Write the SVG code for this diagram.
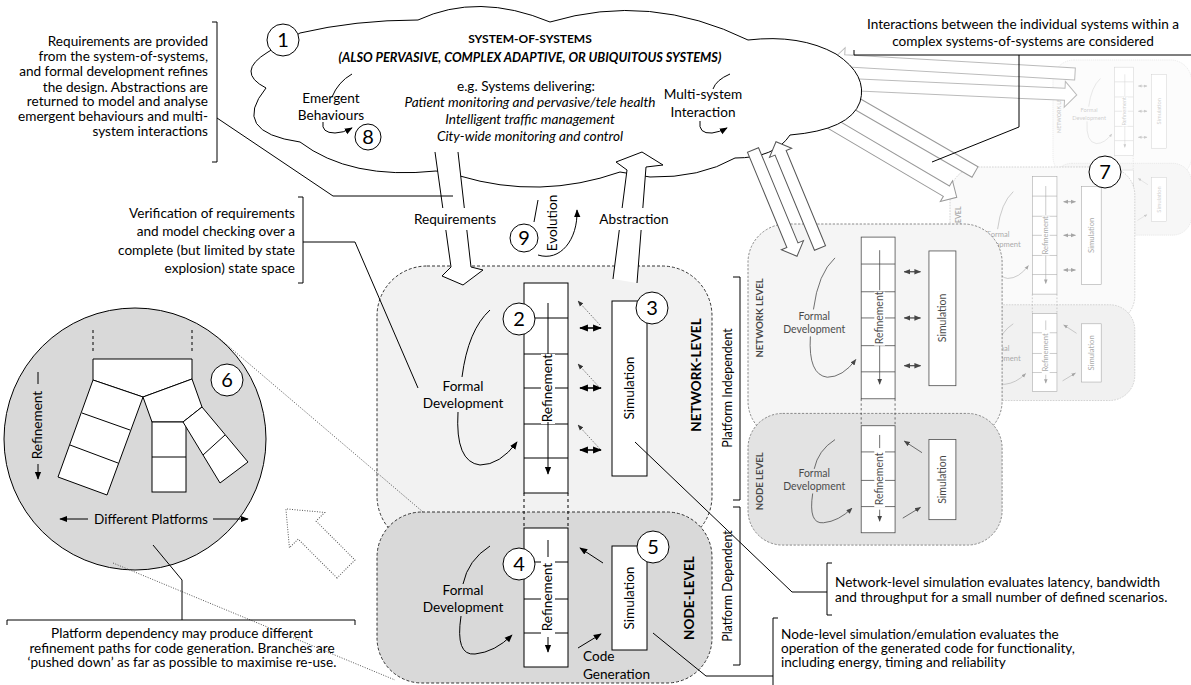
<svg xmlns="http://www.w3.org/2000/svg" width="1191" height="685" viewBox="0 0 1191 685">
<style>
text{font-family:Lato,"Open Sans","DejaVu Sans",sans-serif;font-size:13.6px;fill:#000}
.c{text-anchor:middle}
.e{text-anchor:end}
.sm{font-size:12.5px}
.b{font-weight:bold}
.i{font-style:italic}
.ln{fill:none;stroke:#000;stroke-width:1}
.da{fill:none;stroke:#000;stroke-width:1.6}
.box{fill:#fff;stroke:#000;stroke-width:1}
.num{fill:#fff;stroke:#000;stroke-width:1}
.numt{font-size:20px;text-anchor:middle}
.netbox{fill:#f2f2f2;stroke:#333;stroke-dasharray:3 2}
.nodebox{fill:#d9d9d9;stroke:#333;stroke-dasharray:3 2}
.dash{fill:none;stroke:#000;stroke-dasharray:3 3}
.dot{fill:none;stroke:#555;stroke-dasharray:1 1.5}
.wbg{fill:#fff;stroke:none}
</style>
<defs>
<marker id="a" viewBox="0 0 10 10" refX="9" refY="5" markerWidth="8" markerHeight="8" orient="auto-start-reverse"><path d="M0,1 L10,5 L0,9 z" fill="#000"/></marker>
<marker id="a2" viewBox="0 0 10 10" refX="9" refY="5" markerWidth="5.5" markerHeight="5.5" orient="auto-start-reverse"><path d="M0,1 L10,5 L0,9 z" fill="#000"/></marker>
<marker id="ad" viewBox="0 0 10 10" refX="9" refY="5" markerWidth="6" markerHeight="6" orient="auto"><path d="M0,1 L10,5 L0,9 z" fill="#333"/></marker>
<g id="corebg">
<rect x="377" y="266" width="330" height="280" rx="50" fill="#fff"/>
<rect x="377" y="512" width="330" height="171" rx="45" fill="#fff"/>
</g>
<g id="core">
<rect x="377" y="266" width="330" height="280" rx="50" class="netbox"/>
<rect x="377" y="512" width="330" height="171" rx="45" class="nodebox"/>
<text transform="rotate(-90 393 388)" x="393" y="392" class="c b sm">NETWORK LEVEL</text>
<text transform="rotate(-90 393 600)" x="393" y="604" class="c b sm">NODE LEVEL</text>
<rect x="524" y="283" width="44" height="210" class="box"/>
<path d="M524,318H568M524,354H568M524,388H568M524,424H568M524,458H568" class="ln"/>
<rect x="541" y="354" width="14" height="70" class="wbg"/>
<path d="M548,300V352" class="ln"/>
<path d="M548,424V474" class="ln" marker-end="url(#a)"/>
<text transform="rotate(-90 548 388)" x="548" y="392" class="c">Refinement</text>
<rect x="612" y="301" width="35" height="175" class="box"/>
<text transform="rotate(-90 630 388)" x="630" y="392" class="c">Simulation</text>
<path d="M580,328H601" class="da" marker-start="url(#a2)" marker-end="url(#a2)"/>
<path d="M580,388H601" class="da" marker-start="url(#a2)" marker-end="url(#a2)"/>
<path d="M580,450H601" class="da" marker-start="url(#a2)" marker-end="url(#a2)"/>
<text x="463" y="391" class="c">Formal</text>
<text x="463" y="408" class="c">Development</text>
<path d="M490,310Q468,330 462,377" class="ln"/>
<path d="M458,412Q455,462 480,465Q500,465 517,442" class="ln" marker-end="url(#a)"/>
<path d="M524,493V528M568,493V528" class="dash"/>
<rect x="524" y="528" width="44" height="139" class="box"/>
<path d="M524,562H568M524,599H568M524,633H568" class="ln"/>
<rect x="541" y="560" width="14" height="74" class="wbg"/>
<path d="M548,540V557" class="ln"/>
<path d="M548,637V652" class="ln" marker-end="url(#a)"/>
<text transform="rotate(-90 548 597)" x="548" y="601" class="c">Refinement</text>
<rect x="612" y="546" width="35" height="104" class="box"/>
<text transform="rotate(-90 630 598)" x="630" y="602" class="c">Simulation</text>
<path d="M603,563L580,548" class="ln" marker-end="url(#a)"/>
<path d="M578,648L601,634" class="ln" marker-end="url(#a)"/>
<text x="463" y="595" class="c">Formal</text>
<text x="463" y="612" class="c">Development</text>
<path d="M490,546Q468,560 463,584" class="ln"/>
<path d="M461,616Q455,656 475,654Q495,652 512,635" class="ln" marker-end="url(#a)"/>
</g>
</defs>

<!-- right stacked panels -->
<g id="panel-back">
<use href="#corebg" transform="translate(1053,60) scale(0.42) translate(-377,-266)"/>
<use href="#core" opacity="0.2" transform="translate(1053,60) scale(0.42) translate(-377,-266)"/>
</g>
<g id="connectors-back" fill="#fff" stroke="#bbb">
<path d="M0,-6H231V-13L243,0L231,13V6H0Z" transform="translate(1075,74) rotate(183.3)"/>
<path d="M0,-6H228V-13L240,0L228,13V6H0Z" transform="translate(837,84) rotate(2.6)"/>
</g>
<g id="panel-middle">
<use href="#corebg" transform="translate(950,167) scale(0.56) translate(-377,-266)"/>
<use href="#core" opacity="0.35" transform="translate(950,167) scale(0.56) translate(-377,-266)"/>
</g>
<g id="connectors-middle" fill="#fff" stroke="#999">
<path d="M0,-6H156V-12L168,0L156,12V6H0Z" transform="translate(975,172) rotate(210)"/>
<path d="M0,-6H156V-12L168,0L156,12V6H0Z" transform="translate(812,112) rotate(30.5)"/>
</g>
<g id="panel-front">
<use href="#corebg" transform="translate(748,224) scale(0.77) translate(-377,-266)"/>
<use href="#core" opacity="0.72" transform="translate(748,224) scale(0.77) translate(-377,-266)"/>
</g>
<g id="circle7"><circle cx="1105" cy="172" r="16" class="num"/><text x="1105" y="179" class="numt">7</text></g>

<!-- cloud -->
<g id="system-of-systems">
<path d="M300,33Q355,20 418,20Q478,-8 550,22Q650,-8 748,40Q800,34 836,54Q868,75 860,102Q850,130 790,135Q775,158 735,158Q700,178 650,177L620,172Q540,200 460,176L436,171Q350,180 300,142Q230,132 266,88Q235,72 268,52Z" fill="#fff" stroke="#000"/>
<text x="530" y="43" class="c b" style="font-size:12px">SYSTEM-OF-SYSTEMS</text>
<text x="530" y="62" class="c b i" style="font-size:12.8px">(ALSO PERVASIVE, COMPLEX ADAPTIVE, OR UBIQUITOUS SYSTEMS)</text>
<text x="526" y="91" class="c">e.g. Systems delivering:</text>
<text x="530" y="107" class="c i">Patient monitoring and pervasive/tele health</text>
<text x="530" y="124" class="c i">Intelligent traffic management</text>
<text x="530" y="141" class="c i">City-wide monitoring and control</text>
<text x="331" y="103" class="c">Emergent</text>
<text x="331" y="120" class="c">Behaviours</text>
<path d="M352,74Q338,82 332,97" class="ln"/>
<path d="M323,122Q321,133 335,133Q343,133 352,128" class="ln" marker-end="url(#a)"/>
<text x="703" y="99" class="c">Multi-system</text>
<text x="703" y="117" class="c">Interaction</text>
<path d="M730,74Q716,80 713,89" class="ln"/>
<path d="M700,121Q698,134 712,133Q720,132 727,128" class="ln" marker-end="url(#a)"/>
</g>
<g id="n1"><circle cx="283" cy="40" r="16" class="num"/><text x="283" y="47" class="numt">1</text></g>
<g id="n8"><circle cx="368" cy="137" r="13" class="num"/><text x="368" y="144" class="numt">8</text></g>

<!-- arrows to front panel -->
<g id="connectors-front" fill="#fff" stroke="#555">
<path d="M0,-6H103V-12L115,0L103,12V6H0Z" transform="translate(753,150) rotate(67.5)"/>
<path d="M0,-6H103V-12L115,0L103,12V6H0Z" transform="translate(820,248) rotate(247.5)"/>
</g>

<!-- main network / node boxes -->
<g id="network-level">
<rect x="377" y="266" width="335" height="280" rx="50" class="netbox"/>
</g>
<line x1="220" y1="339" x2="423" y2="512" class="dot"/>
<g id="node-level">
<rect x="377" y="512" width="335" height="171" rx="45" class="nodebox"/>
</g>

<!-- requirements / abstraction / evolution -->
<g id="requirements">
<polygon points="435,152 451,267 442,276 463,285 483,270 471,267 458,152" fill="#fff"/>
<polyline points="435,152 451,267 442,276 463,285 483,270 471,267 458,152" class="ln"/>
<rect x="408" y="208" width="94" height="22" class="wbg"/>
<text x="455" y="224" class="c">Requirements</text>
</g>
<g id="abstraction">
<polygon points="613,279 627,170 616,162 642,152 663,165 646,167 637,283" fill="#fff"/>
<polyline points="613,279 627,170 616,162 642,152 663,165 646,167 637,283" class="ln"/>
<rect x="590" y="208" width="90" height="22" class="wbg"/>
<text x="634" y="224" class="c">Abstraction</text>
</g>
<g id="evolution">
<path d="M534,222L538,200" class="ln"/>
<path d="M538,255C560,262 578,240 577,210" class="ln" marker-end="url(#a)"/>
<circle cx="524" cy="238" r="14" class="num"/><text x="524" y="245" class="numt">9</text>
<text transform="rotate(-90 553 223)" x="553" y="227" class="c">Evolution</text>
</g>

<!-- network level contents -->
<g id="net-refinement">
<rect x="524" y="283" width="44" height="210" class="box"/>
<path d="M524,318H568M524,354H568M524,388H568M524,424H568M524,458H568" class="ln"/>
<rect x="541" y="354" width="14" height="70" class="wbg"/>
<path d="M548,303V354" class="ln"/>
<path d="M548,422V474" class="ln" marker-end="url(#a)"/>
<text transform="rotate(-90 548 388)" x="548" y="392" class="c">Refinement</text>
</g>
<g id="n2"><circle cx="519" cy="319" r="16" class="num"/><text x="519" y="326" class="numt">2</text></g>
<g id="net-simulation">
<rect x="612" y="301" width="35" height="175" class="box"/>
<text transform="rotate(-90 630 388)" x="630" y="392" class="c">Simulation</text>
</g>
<g id="n3"><circle cx="652" cy="308" r="16" class="num"/><text x="652" y="315" class="numt">3</text></g>
<g id="net-formal">
<text x="463" y="391" class="c">Formal</text>
<text x="463" y="408" class="c">Development</text>
</g>
<text transform="rotate(-90 697 375)" x="697" y="379" class="c b">NETWORK-LEVEL</text>

<!-- node level contents -->
<g id="node-refinement">
<rect x="524" y="528" width="44" height="139" class="box"/>
<path d="M524,562H568M524,599H568M524,633H568" class="ln"/>
<rect x="541" y="560" width="14" height="74" class="wbg"/>
<path d="M548,540V557" class="ln"/>
<path d="M548,637V652" class="ln" marker-end="url(#a)"/>
<text transform="rotate(-90 548 597)" x="548" y="601" class="c">Refinement</text>
</g>
<g id="n4"><circle cx="519" cy="564" r="16" class="num"/><text x="519" y="571" class="numt">4</text></g>
<g id="node-simulation">
<rect x="612" y="546" width="35" height="104" class="box"/>
<text transform="rotate(-90 630 598)" x="630" y="602" class="c">Simulation</text>
</g>
<g id="n5"><circle cx="653" cy="547" r="16" class="num"/><text x="653" y="554" class="numt">5</text></g>
<g id="node-formal">
<text x="463" y="595" class="c">Formal</text>
<text x="463" y="612" class="c">Development</text>
</g>
<text x="583" y="661">Code</text>
<text x="583" y="679">Generation</text>
<text transform="rotate(-90 690 598)" x="690" y="602" class="c b">NODE-LEVEL</text>

<!-- platform circle -->
<g id="platform-circle">
<circle cx="135" cy="439" r="131" fill="#d9d9d9" stroke="#000"/>
<path d="M93,330V352M192,330V352" class="dash"/>
<polygon points="93,359 192,359 192,379 143,397 93,380" class="box"/>
<polygon points="93,380 143,397 107,495 58,477" class="box"/>
<path d="M82,413L130,430M70,445L118,463" class="ln"/>
<polygon points="143,397 192,379 202,407 183,422 152,422" class="box"/>
<rect x="152" y="422" width="34" height="70" class="box"/>
<path d="M152,457H186" class="ln"/>
<polygon points="183,422 202,407 248,462 220,483" class="box"/>
<path d="M203,455L225,435" class="ln"/>
<path d="M38,372V384" class="ln"/>
<path d="M38,464V479" class="ln" marker-end="url(#a)"/>
<text transform="rotate(-90 38 425)" x="38" y="429" class="c">Refinement</text>
<text x="151" y="524" class="c">Different Platforms</text>
<path d="M88,519H60" class="ln" marker-end="url(#a)"/>
<path d="M213,519H248" class="ln" marker-end="url(#a)"/>
</g>
<g id="n6"><circle cx="227" cy="380" r="16" class="num"/><text x="227" y="387" class="numt">6</text></g>
<path d="M0,-12.7H55V-25L85,0L55,25V12.7H0Z" transform="translate(346,569) rotate(-135)" class="dot"/>

<!-- connectors group -->
<g id="connectors">
<path d="M113,563L395,680" class="dot"/>
<path d="M580,328H601" class="da" marker-start="url(#a2)" marker-end="url(#a2)"/>
<path d="M580,388H601" class="da" marker-start="url(#a2)" marker-end="url(#a2)"/>
<path d="M580,450H601" class="da" marker-start="url(#a2)" marker-end="url(#a2)"/>
<path d="M600,325L578,301" class="dot" marker-end="url(#ad)"/>
<path d="M600,388L578,364" class="dot" marker-end="url(#ad)"/>
<path d="M600,449L578,425" class="dot" marker-end="url(#ad)"/>
<path d="M490,310Q468,330 462,377" class="ln"/>
<path d="M458,412Q455,462 480,465Q500,465 517,442" class="ln" marker-end="url(#a)"/>
<path d="M490,546Q468,560 463,584" class="ln"/>
<path d="M461,616Q455,656 475,654Q495,652 512,635" class="ln" marker-end="url(#a)"/>
<path d="M603,563L580,548" class="ln" marker-end="url(#a)"/>
<path d="M578,648L601,634" class="ln" marker-end="url(#a)"/>
<path d="M524,493V528M568,493V528" class="dash"/>
<path d="M212,22H217V162H212M217,118L333,196H453" class="ln"/>
<path d="M298,197H303V283H298M303,242H355L418,388" class="ln"/>
<path d="M7,625V620H355V625M182,620V580L153,545" class="ln"/>
<path d="M635,442L792,592H827M832,563H827V615H832" class="ln"/>
<path d="M653,633L706,676H773M778,618H773V685" class="ln"/>
<path d="M854,50V55H1191M1019,55V127L932,162" class="ln"/>
<path d="M733,277H740V500H733M733,507H740V665H733" class="ln"/>
</g>

<!-- annotations -->
<g id="notes">
<text x="208" y="46" class="e">Requirements are provided</text>
<text x="208" y="61" class="e">from the system-of-systems,</text>
<text x="208" y="76" class="e">and formal development refines</text>
<text x="208" y="92" class="e">the design. Abstractions are</text>
<text x="208" y="106" class="e">returned to model and analyse</text>
<text x="208" y="121" class="e">emergent behaviours and multi-</text>
<text x="208" y="136" class="e">system interactions</text>
<text x="295" y="218" class="e">Verification of requirements</text>
<text x="295" y="236" class="e">and model checking over a</text>
<text x="295" y="255" class="e">complete (but limited by state</text>
<text x="295" y="273" class="e">explosion) state space</text>
<text x="182" y="638" class="c">Platform dependency may produce different</text>
<text x="182" y="653" class="c">refinement paths for code generation. Branches are</text>
<text x="182" y="667" class="c">‘pushed down’ as far as possible to maximise re-use.</text>
<text x="835" y="587">Network-level simulation evaluates latency, bandwidth</text>
<text x="835" y="602">and throughput for a small number of defined scenarios.</text>
<text x="781" y="639">Node-level simulation/emulation evaluates the</text>
<text x="781" y="653">operation of the generated code for functionality,</text>
<text x="781" y="667">including energy, timing and reliability</text>
<text x="1023" y="29" class="c">Interactions between the individual systems within a</text>
<text x="1023" y="46" class="c">complex systems-of-systems are considered</text>
<text transform="rotate(-90 728 388)" x="728" y="392" class="c sm">Platform Independent</text>
<text transform="rotate(-90 728 586)" x="728" y="590" class="c sm">Platform Dependent</text>
</g>
</svg>
